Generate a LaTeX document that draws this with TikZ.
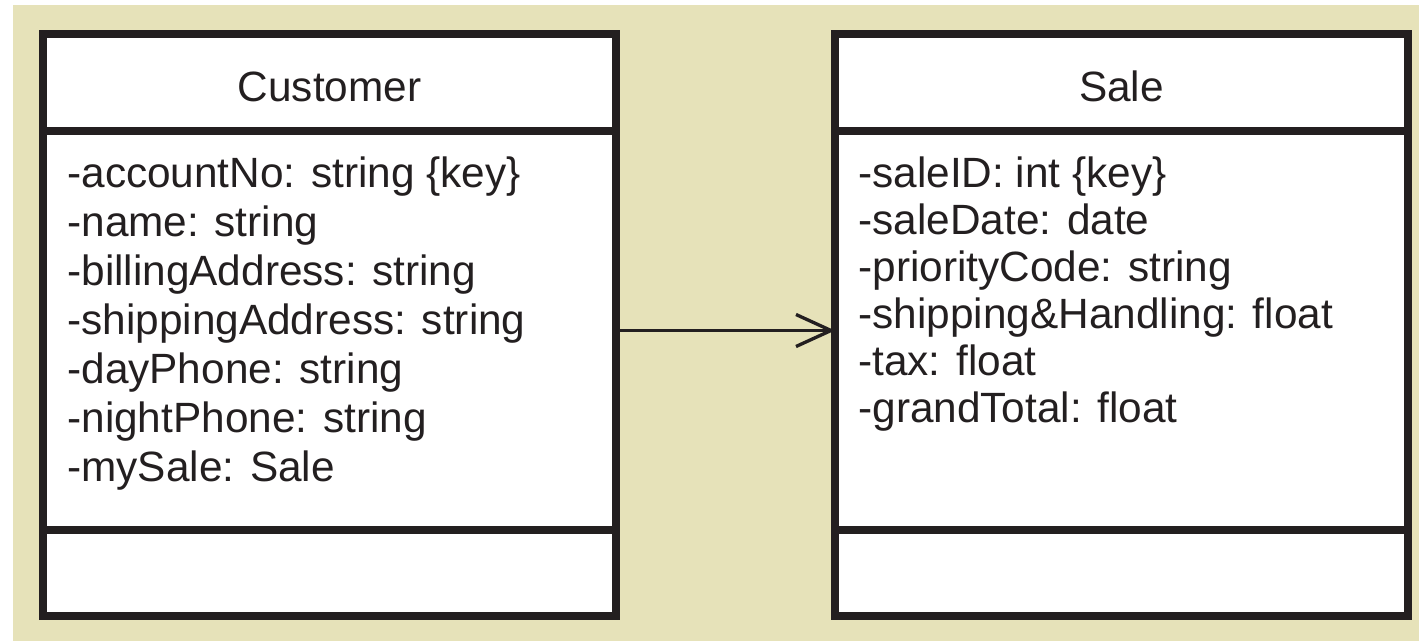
\documentclass[tikz,border=0pt]{standalone}
\usepackage{fontspec}
\setmainfont{Liberation Sans}
\usepackage{tikz}
\usetikzlibrary{arrows.meta, positioning}
\definecolor{bgtan}{RGB}{230, 226, 185}
\definecolor{umlline}{RGB}{35, 31, 32}

\begin{document}
\begin{tikzpicture}[
    node distance=0cm,
    classhead/.style={rectangle, draw=umlline, fill=white, line width=4.5pt, minimum width=11.46cm, minimum height=1.94cm, inner sep=0pt, outer sep=0pt, text height=0.78cm, text depth=0cm, text=umlline, font=\fontsize{24.1pt}{27.6pt}\selectfont},
    attrbox/.style={classhead, minimum height=7.98cm},
    opbox/.style={classhead, minimum height=1.72cm},
    attrlist/.style={align=left, inner sep=0pt, text=umlline, font=\fontsize{24.1pt}{27.9pt}\selectfont},
    assoc/.style={-{Straight Barb[length=0.7cm, width=0.64cm]}, line width=1.9pt, draw=umlline}
]

\useasboundingbox (0,0) rectangle (28.38,-12.82);
\fill[bgtan] (0.26,-0.10) rectangle (28.38,-12.82);

% Customer class
\node[classhead] (cust) at (6.59,-1.65) {Customer};
\node[attrbox, below=of cust] (custattr) {};
\node[opbox, below=of custattr] (custop) {};
\node[attrlist, below right=0.5cm and 0.48cm of custattr.north west] (custlist) {-accountNo: string \{key\}\\-name: string\\-billingAddress: string\\-shippingAddress: string\\-dayPhone: string\\-nightPhone: string\\-mySale: Sale};

% Sale class
\node[classhead, right=4.38cm of cust] (sale) {Sale};
\node[attrbox, below=of sale] (saleattr) {};
\node[opbox, below=of saleattr] (saleop) {};
\node[attrlist, font=\fontsize{24.1pt}{26.8pt}\selectfont, below right=0.5cm and 0.46cm of saleattr.north west] (salelist) {-saleID: int \{key\}\\-saleDate: date\\-priorityCode: string\\-shipping\&Handling: float\\-tax: float\\-grandTotal: float};

\draw[assoc] (custattr) -- (saleattr);

\end{tikzpicture}
\end{document}
